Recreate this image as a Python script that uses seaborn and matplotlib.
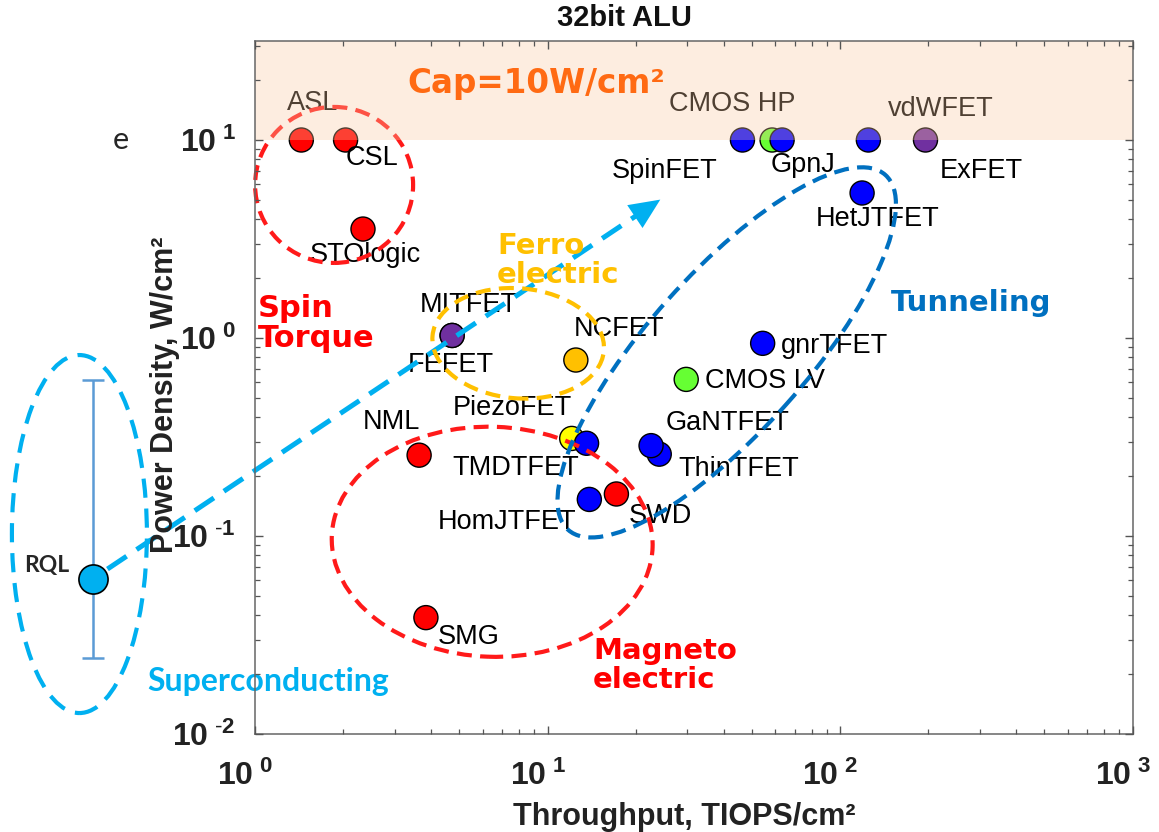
import matplotlib
matplotlib.use("Agg")
import matplotlib.pyplot as plt
import numpy as np
import pandas as pd
import seaborn as sns
from matplotlib.patches import Ellipse
from matplotlib.transforms import ScaledTranslation
from matplotlib.ticker import FixedLocator, LogLocator, NullFormatter

# ---------------- benchmark data: 32-bit ALU ----------------
devices = ["ASL", "CSL", "STOlogic", "NML", "SWD", "SMG",
           "SpinFET", "CMOS HP", "GpnJ", "vdWFET", "ExFET", "HetJTFET",
           "MITFET", "FEFET", "NCFET", "PiezoFET", "TMDTFET",
           "ThinTFET", "GaNTFET", "gnrTFET", "CMOS LV", "HomJTFET"]
throughput = [1.44, 2.04, 2.34, 3.64, 17.2, 3.84,
              46.4, 58.6, 63.4, 125.0, 196.0, 119.0,
              4.72, 4.72, 12.5, 12.1, 13.6,
              24.1, 22.6, 54.4, 29.8, 13.9]          # TIOPS/cm^2
power_density = [10.0, 10.0, 3.55, 0.256, 0.163, 0.0387,
                 10.0, 10.0, 10.0, 10.0, 10.0, 5.4,
                 1.03, 1.03, 0.774, 0.311, 0.294,
                 0.259, 0.286, 0.94, 0.618, 0.153]    # W/cm^2
family = ["spin", "spin", "spin", "spin", "spin", "spin",
          "fet", "cmos", "fet", "fet", "ferroic", "fet",
          "ferroic", "ferroic", "negcap", "piezo", "fet",
          "fet", "fet", "fet", "cmos", "fet"]

# superconducting logic (RQL), shown with its spread in power density
rql_throughput = 0.28
rql_power = 0.061
rql_power_low = 0.0241
rql_power_high = 0.614

power_cap = 10.0          # W/cm^2

x_tick_values = [1, 10, 100, 1000]
y_tick_values = [0.01, 0.1, 1, 10]
x_tick_labels = [r"$\mathbf{10^{\ 0}}$", r"$\mathbf{10^{\ 1}}$",
                 r"$\mathbf{10^{\ 2}}$", r"$\mathbf{10^{\ 3}}$"]
y_tick_labels = [r"$\mathbf{10^{\ \text{-}2}}$", r"$\mathbf{10^{\ \text{-}1}}$",
                 r"$\mathbf{10^{\ 0}}$", r"$\mathbf{10^{\ 1}}$"]

family_colors = {"spin": "#ff0000", "fet": "#0000ff", "cmos": "#66ff33",
                 "ferroic": "#7030a0", "negcap": "#ffc000", "piezo": "#ffff00"}

# label placement around each marker (offset in points)
label_offsets = {
    "ASL": (8, 27), "CSL": (19, -13), "STOlogic": (2, -19),
    "NML": (-20, 24), "SWD": (32, -16), "SMG": (31, -14),
    "SpinFET": (-56, -22), "CMOS HP": (-29, 26), "GpnJ": (15, -18),
    "vdWFET": (52, 22), "ExFET": (40, -22), "HetJTFET": (11, -19),
    "MITFET": (12, 22), "FEFET": (-1, -21), "NCFET": (31, 22),
    "PiezoFET": (-43, 22), "TMDTFET": (-51, -18), "ThinTFET": (57, -11),
    "GaNTFET": (55, 16), "gnrTFET": (52, -2), "CMOS LV": (57, -1),
    "HomJTFET": (-59, -16),
}

df = pd.DataFrame({"device": devices, "throughput": throughput,
                   "power": power_density, "family": family})

# ---------------- style ----------------
sns.set_style("ticks")
plt.rcParams["font.family"] = ["Liberation Sans", "DejaVu Sans"]
plt.rcParams["mathtext.fontset"] = "custom"
plt.rcParams["mathtext.rm"] = "Liberation Sans"
plt.rcParams["mathtext.bf"] = "Liberation Sans:bold"
plt.rcParams["mathtext.it"] = "Liberation Sans:italic"

W, H = 1159, 832
fig = plt.figure(figsize=(W / 100, H / 100), dpi=100)
ax = fig.add_axes([255 / W, (H - 734) / H, 877.5 / W, 693 / H])
ax.set_xscale("log")
ax.set_yscale("log")

sns.scatterplot(data=df, x="throughput", y="power", hue="family",
                palette=family_colors, s=300, edgecolor="black",
                linewidth=1.0, legend=False, ax=ax, zorder=2)

for name, x, y in zip(devices, throughput, power_density):
    dx, dy = label_offsets[name]
    ax.annotate(name, (x, y), xytext=(dx, dy), textcoords="offset points",
                ha="center", va="center", fontsize=19.5, color="black",
                zorder=3)

# RQL marker with its range, outside the plotting box
eb = ax.errorbar(rql_throughput, rql_power,
                 yerr=[[rql_power - rql_power_low], [rql_power_high - rql_power]],
                 fmt="none", ecolor="#5b9bd5", elinewidth=1.8, capsize=8,
                 capthick=1.8, zorder=2)
for art in eb.get_children():
    art.set_clip_on(False)
ax.scatter([rql_throughput], [rql_power], s=440, color="#00b0f0",
           edgecolor="black", linewidth=1.2, zorder=3, clip_on=False)
ax.annotate("RQL", (rql_throughput, rql_power), xytext=(-17.5, 4.8),
            textcoords="offset points", ha="right", va="baseline",
            fontsize=16.5, fontweight="bold", family="Lato",
            annotation_clip=False)

# dashed arrow from RQL toward the conventional devices
arrow_tip = (24.3, 5.0)
lx0, ly0 = np.log10(rql_throughput), np.log10(rql_power)
lx1, ly1 = np.log10(arrow_tip[0]), np.log10(arrow_tip[1])
def along(f):
    return 10 ** (lx0 + f * (lx1 - lx0)), 10 ** (ly0 + f * (ly1 - ly0))
sx, sy = along(0.025)
ex, ey = along(0.965)
ax.plot([sx, ex], [sy, ey], color="#00b0f0", lw=3.6, dashes=(4.6, 2.4),
        clip_on=False, zorder=4, solid_capstyle="butt")
ax.annotate("", xy=arrow_tip, xytext=along(0.9),
            arrowprops=dict(arrowstyle="-|>,head_length=1.0,head_width=0.45",
                            color="#00b0f0", lw=0, mutation_scale=22,
                            shrinkA=0, shrinkB=0),
            annotation_clip=False, zorder=4)

# grouping ellipses (size in inches, centred on a data point)
def ring(cx, cy, w, h, angle, color, lw, dash):
    tr = fig.dpi_scale_trans + ScaledTranslation(cx, cy, ax.transData)
    e = Ellipse((0, 0), w, h, angle=angle, transform=tr, fill=False,
                edgecolor=color, lw=lw, linestyle=(0, dash), zorder=4,
                clip_on=False)
    ax.add_artist(e)

ring(1.864, 5.93, 1.58, 1.56, 0, "#ff1a1a", 3.0, (3.6, 2.0))
ring(7.94, 0.94, 1.72, 1.10, -5, "#ffc000", 3.0, (3.6, 2.0))
ring(6.47, 0.0935, 3.21, 2.30, -2, "#ff1a1a", 3.0, (3.6, 2.0))
ring(41.0, 0.846, 4.76, 1.58, 48.2, "#0070c0", 3.0, (3.6, 2.0))
ring(0.251, 0.1023, 1.35, 3.58, 0, "#00b0f0", 3.0, (4.6, 2.6))

# power-density cap band
ax.axhspan(power_cap, 10 ** 1.5, color="#f9c9a0", alpha=0.32, lw=0, zorder=5)
ax.text(3.31, 17.2, "Cap=10W/cm²", color="#ff6a13", fontsize=23.5,
        fontweight="bold", family="DejaVu Sans", ha="left", va="baseline",
        zorder=6)

# technology family labels
cat = dict(fontweight="bold", family="DejaVu Sans", fontsize=21,
           ha="left", va="baseline", linespacing=1.05, zorder=6)
ax.text(1.024, 0.903, "Spin\nTorque", color="#ff0000",
        **{**cat, "fontsize": 22})
ax.text(6.73, 1.90, "Ferro\nelectric", color="#ffc000", **cat)
ax.text(14.3, 0.0171, "Magneto\nelectric", color="#ff0000", **cat)
ax.text(148.7, 1.374, "Tunneling", color="#0070c0", **cat)
ax.text(0.43, 0.0164, "Superconducting", color="#00b0f0", fontweight="bold",
        family="Lato", fontsize=23, ha="left", va="baseline", clip_on=False)

# ---------------- axes ----------------
ax.set_xlim(1, 1000)
ax.set_ylim(0.01, 10 ** 1.5)
ax.xaxis.set_major_locator(FixedLocator(x_tick_values))
ax.yaxis.set_major_locator(FixedLocator(y_tick_values))
ax.xaxis.set_minor_locator(LogLocator(base=10, subs=np.arange(2, 10)))
ax.yaxis.set_minor_locator(LogLocator(base=10, subs=np.arange(2, 10)))
ax.xaxis.set_minor_formatter(NullFormatter())
ax.yaxis.set_minor_formatter(NullFormatter())
tick_font = dict(fontsize=23, color="#222222")
ax.set_xticklabels(x_tick_labels, **tick_font)
ax.set_yticklabels(y_tick_labels, **tick_font)
ax.tick_params(which="both", direction="in", top=True, right=True,
               color="#555555")
ax.tick_params(which="major", length=6, width=1.0)
ax.tick_params(which="minor", length=3.5, width=0.9)
ax.tick_params(axis="x", which="major", pad=19)
ax.tick_params(axis="y", which="major", pad=14)
# x tick labels sit slightly left of their tick
shift_left = ScaledTranslation(-0.10, 0, fig.dpi_scale_trans)
for lab in ax.get_xticklabels():
    lab.set_transform(lab.get_transform() + shift_left)
for sp in ax.spines.values():
    sp.set_color("#666666")
    sp.set_linewidth(1.1)
    sp.set_zorder(10)
ax.xaxis.set_zorder(10)
ax.yaxis.set_zorder(10)

ax.set_xlabel("Throughput, TIOPS/cm²", fontsize=22, fontweight="bold",
              color="#222222", va="baseline")
ax.xaxis.set_label_coords(0.489, (734 - 825) / 693)
ax.set_ylabel("Power Density, W/cm²", fontsize=22, fontweight="bold",
              color="#222222", va="center")
ax.yaxis.set_label_coords(-0.103, 0.49)

fig.text(624 / W, 1 - 18 / H, "32bit ALU", ha="center", va="center",
         fontsize=21, fontweight="bold", color="#111111")
fig.text(121 / W, 1 - 140 / H, "e", ha="center", va="center",
         fontsize=22, family="Lato", color="#262626")

fig.savefig("out.png", dpi=100)
